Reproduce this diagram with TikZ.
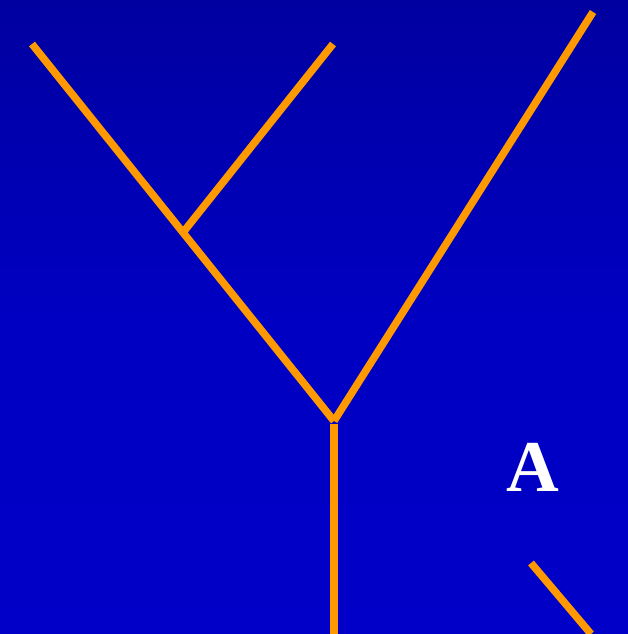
\documentclass[tikz,border=0pt]{standalone}
\usepackage{fontspec}
\setmainfont{Liberation Serif}
\definecolor{bgtop}{RGB}{0,0,160}
\definecolor{bgbot}{RGB}{0,0,200}
\definecolor{branch}{RGB}{255,153,0}
\tikzset{
  twig/.style={draw=branch, line width=7.5pt},
  letter/.style={text=white, font=\bfseries\fontsize{73}{73}\selectfont, inner sep=0pt}
}
\begin{document}
\begin{tikzpicture}[x=1pt,y=-1pt]
\shade[top color=bgtop, bottom color=bgbot, middle color=bgbot!85!bgtop] (0,0) rectangle (628,634);
\useasboundingbox (0,0) rectangle (628,634);
\coordinate (lt) at (32,44);
\coordinate (mt) at (333,44);
\coordinate (rt) at (593,12);
\coordinate (inner) at (183,232.5);
\coordinate (vtx) at (334,421);
\coordinate (stemtop) at (334,424);
\coordinate (stembot) at (334,634);
\coordinate (sa) at (531,563);
\coordinate (sb) at (591,634);
\draw[twig] (lt) -- (vtx);
\draw[twig] (inner) -- (mt);
\draw[twig] (rt) -- (vtx);
\draw[twig] (stemtop) -- (stembot);
\draw[twig] (sa) -- (sb);
\node[letter] (A) at (532.5,467) {A};
\end{tikzpicture}
\end{document}
